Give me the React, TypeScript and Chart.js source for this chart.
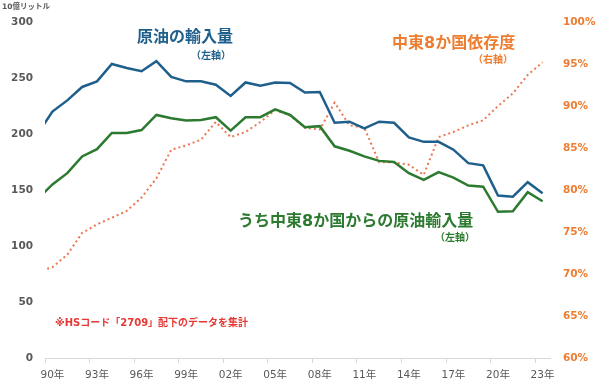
import React, { useEffect, useRef } from 'react';
import { Chart, registerables } from 'chart.js';

Chart.register(...registerables);

// ---- data ----
const years = [
  1989, 1990, 1991, 1992, 1993, 1994, 1995, 1996, 1997, 1998, 1999,
  2000, 2001, 2002, 2003, 2004, 2005, 2006, 2007, 2008, 2009,
  2010, 2011, 2012, 2013, 2014, 2015, 2016, 2017, 2018, 2019,
  2020, 2021, 2022, 2023,
];

// 原油の輸入量 (10億リットル, left axis)
const crudeImports = [
  200, 220, 230, 242, 247, 262.5, 259, 256, 265, 251, 247,
  247, 244, 234, 246, 243, 246, 245.5, 237, 237.5, 210,
  211, 205, 211, 210, 197, 193, 193, 186, 174, 172,
  145, 144, 157, 147,
];

// うち中東8か国からの原油輸入量 (left axis)
const middleEastImports = [
  142, 155, 165, 180, 186.5, 201, 201, 203.5, 217, 214, 212,
  212.5, 215, 203, 215, 215, 222, 217, 206, 207, 189,
  185, 180, 176, 175, 165, 159, 166, 161, 154, 153,
  130.5, 131, 148, 140,
];

// 中東8か国依存度 (%, right axis)
const dependency = [
  70.3, 70.8, 72.3, 74.9, 75.9, 76.7, 77.5, 79.1, 81.4, 84.8, 85.3,
  86.0, 88.1, 86.3, 86.9, 88.1, 89.5, 88.9, 87.4, 87.2, 90.4,
  87.7, 87.4, 83.3, 83.3, 83.0, 81.8, 86.3, 86.9, 87.7, 88.3,
  90.0, 91.5, 93.7, 95.2,
];

const xTickLabels = ['90年', '93年', '96年', '99年', '02年', '05年', '08年', '11年', '14年', '17年', '20年', '23年'];

const BLUE = '#1F5F8C';
const GREEN = '#2C7A2F';
const ORANGE = '#ED7D31';
const ORANGE_LINE = '#EC7650';
const GRAY = '#595959';
const RED = '#E53935';
const FONT = '"DejaVu Sans", "Noto Sans CJK JP", sans-serif';

type Note = { text: string; x: number; y: number; size: number; color: string; align: CanvasTextAlign; weight?: string };

const notes: Note[] = [
  { text: '10億リットル', x: 2, y: 7, size: 7.5, color: GRAY, align: 'left' },
  { text: '原油の輸入量', x: 185, y: 38, size: 16, color: BLUE, align: 'center' },
  { text: '（左軸）', x: 211, y: 56, size: 10, color: BLUE, align: 'center' },
  { text: '中東8か国依存度', x: 392, y: 44, size: 16, color: ORANGE, align: 'left' },
  { text: '（右軸）', x: 493, y: 60, size: 10, color: ORANGE, align: 'center' },
  { text: 'うち中東8か国からの原油輸入量', x: 238, y: 222, size: 16, color: GREEN, align: 'left' },
  { text: '（左軸）', x: 455, y: 238, size: 10, color: GREEN, align: 'center' },
  { text: '※HSコード「2709」配下のデータを集計', x: 55, y: 323, size: 10, color: RED, align: 'left' },
];

const notesPlugin = {
  id: 'notes',
  afterDraw(chart: any) {
    const ctx = chart.ctx as CanvasRenderingContext2D;
    ctx.save();
    ctx.textBaseline = 'middle';
    for (const n of notes) {
      ctx.font = `${n.weight ?? 'bold'} ${n.size}px ${FONT}`;
      ctx.fillStyle = n.color;
      ctx.textAlign = n.align;
      ctx.fillText(n.text, n.x, n.y);
    }
    ctx.restore();
  },
};

export default function App() {
  const canvasRef = useRef<HTMLCanvasElement | null>(null);

  useEffect(() => {
    if (!canvasRef.current) return;
    Chart.defaults.font.family = FONT;
    const pts = (vals: number[]) => vals.map((v, i) => ({ x: years[i], y: v }));

    const chart = new Chart(canvasRef.current, {
      type: 'line',
      data: {
        datasets: [
          {
            label: '原油の輸入量',
            data: pts(crudeImports),
            borderColor: BLUE,
            borderWidth: 2.5,
            pointRadius: 0,
            tension: 0,
            yAxisID: 'y',
          },
          {
            label: 'うち中東8か国からの原油輸入量',
            data: pts(middleEastImports),
            borderColor: GREEN,
            borderWidth: 2.5,
            pointRadius: 0,
            tension: 0,
            yAxisID: 'y',
          },
          {
            label: '中東8か国依存度',
            data: pts(dependency),
            borderColor: ORANGE_LINE,
            borderWidth: 2,
            borderDash: [2, 3],
            pointRadius: 0,
            tension: 0,
            yAxisID: 'y1',
          },
        ],
      },
      options: {
        responsive: false,
        animation: false,
        devicePixelRatio: 1,
        layout: { padding: { top: 22, left: 0, right: 0, bottom: 0 } },
        plugins: {
          legend: { display: false },
          tooltip: { enabled: false },
          title: { display: false },
        },
        scales: {
          x: {
            type: 'linear',
            min: years[1] - 0.5,
            max: years[years.length - 1] + 0.5,
            afterBuildTicks: (scale: any) => {
              scale.ticks = xTickLabels.map((_, i) => ({ value: years[1] - 0.5 + 3 * i }));
            },
            afterFit: (scale: any) => {
              scale.height = 26;
            },
            grid: {
              display: true,
              drawOnChartArea: false,
              drawTicks: true,
              tickLength: 5,
              color: '#D9D9D9',
            },
            border: { display: true, color: '#D9D9D9', width: 1 },
            ticks: {
              autoSkip: false,
              maxRotation: 0,
              labelOffset: 7.4,
              padding: 6,
              color: GRAY,
              font: { size: 10.5, family: FONT },
              callback: (_v: any, index: number) => xTickLabels[index],
            },
          },
          y: {
            type: 'linear',
            position: 'left',
            min: 0,
            max: 300,
            afterFit: (scale: any) => {
              scale.width = 45;
            },
            grid: { display: false, drawTicks: false },
            border: { display: false },
            ticks: {
              stepSize: 50,
              padding: 12,
              color: GRAY,
              font: { size: 10.5, weight: 'bold', family: FONT },
            },
          },
          y1: {
            type: 'linear',
            position: 'right',
            min: 60,
            max: 100,
            afterFit: (scale: any) => {
              scale.width = 50;
            },
            grid: { display: false, drawTicks: false },
            border: { display: false },
            ticks: {
              stepSize: 5,
              padding: 13,
              color: ORANGE,
              font: { size: 10.5, weight: 'bold', family: FONT },
              callback: (v: any) => `${v}%`,
            },
          },
        },
      },
      plugins: [notesPlugin],
    } as any);

    return () => chart.destroy();
  }, []);

  return (
    <div style={{ position: 'fixed', left: 0, top: 0, width: 600, height: 384, background: '#ffffff' }}>
      <canvas ref={canvasRef} width={600} height={384} style={{ display: 'block' }} />
    </div>
  );
}
